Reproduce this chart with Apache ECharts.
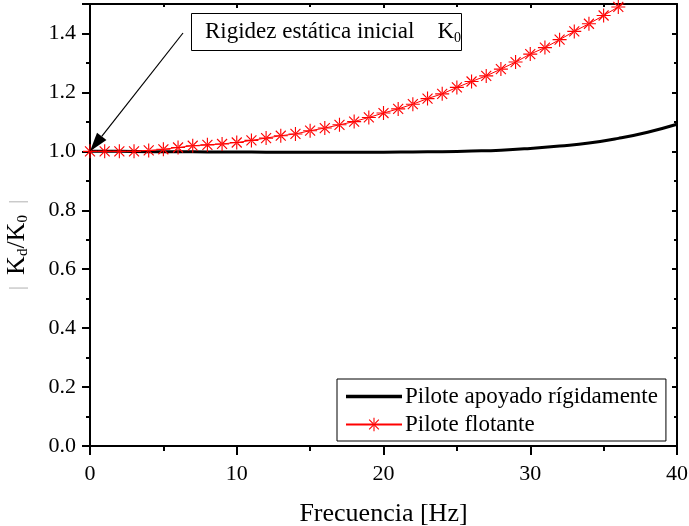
<!DOCTYPE html>
<html>
<head>
<meta charset="utf-8">
<script src="https://cdn.jsdelivr.net/npm/echarts@6/dist/echarts.min.js"></script>
<style>
  html, body { margin: 0; padding: 0; background: #fff; }
  #chart { width: 689px; height: 526px; }
</style>
</head>
<body>
<div id="chart"></div>
<script>
// frecuencias [Hz]
const freqRigid = [0, 2, 4, 6, 8, 10, 12, 14, 16, 18, 20, 22, 24, 26, 28, 30, 32, 34, 36, 38, 40];
const kRigid = [1.000, 1.000, 0.999, 0.999, 0.998, 0.998, 0.997, 0.997, 0.997, 0.997, 0.997,
  0.998, 0.999, 1.001, 1.004, 1.010, 1.018, 1.028, 1.044, 1.065, 1.092];

const freqFloat = [0, 1, 2, 3, 4, 5, 6, 7, 8, 9, 10, 11, 12, 13, 14, 15, 16, 17, 18, 19,
  20, 21, 22, 23, 24, 25, 26, 27, 28, 29, 30, 31, 32, 33, 34, 35, 36, 37];
const kFloat = [1.000, 1.000, 1.000, 1.000, 1.003, 1.007, 1.013, 1.019, 1.022, 1.025,
  1.030, 1.037, 1.045, 1.053, 1.059, 1.070, 1.079, 1.090, 1.101, 1.115,
  1.130, 1.144, 1.160, 1.179, 1.195, 1.217, 1.237, 1.256, 1.279, 1.303,
  1.330, 1.352, 1.379, 1.407, 1.433, 1.461, 1.490, 1.520];

const seriesNames = ["Pilote apoyado rígidamente", "Pilote flotante"];

const FONT = "Liberation Serif";

// asterisco de 8 brazos con punto central
const starPath = "path://M0 9.2H20V10.8H0Z M9.2 0H10.8V20H9.2Z " +
  "M2.3 3.45L3.45 2.3L17.7 16.55L16.55 17.7Z M16.55 2.3L17.7 3.45L3.45 17.7L2.3 16.55Z " +
  "M8.2 10a1.8 1.8 0 1 0 3.6 0a1.8 1.8 0 1 0 -3.6 0Z";

const pair = (xs, ys) => xs.map((x, i) => [x, ys[i]]);

const chart = echarts.init(document.getElementById("chart"), null, { renderer: "canvas" });

const tickRich = { t: { color: "#000", fontFamily: FONT, fontSize: 22 } };

let option = {
  animation: false,
  backgroundColor: "#fff",
  textStyle: { fontFamily: FONT, color: "#000" },
  grid: { left: 90, right: 12, top: 4, bottom: 80, outerBoundsMode: "none", containLabel: false },
  legend: {
    orient: "vertical",
    left: 337,
    top: 379,
    padding: [6, 8, 5, 8],
    itemGap: 5,
    itemWidth: 56,
    itemHeight: 17,
    borderColor: "#000",
    borderWidth: 1,
    backgroundColor: "#fff",
    textStyle: { color: "#000", fontFamily: FONT, fontSize: 23, padding: [0, 0, 0, -2] },
    data: [
      { name: seriesNames[0], icon: "path://M0 0H56V3.6H0Z" },
      { name: seriesNames[1] }
    ]
  },
  xAxis: [{
    type: "value",
    min: 0, max: 40, interval: 10,
    name: "Frecuencia [Hz]",
    nameLocation: "middle",
    nameGap: 55,
    nameTextStyle: { color: "#000", fontFamily: FONT, fontSize: 26 },
    axisLine: { onZero: false, lineStyle: { color: "#000", width: 2 } },
    axisTick: { inside: false, length: 9, lineStyle: { color: "#000", width: 2 } },
    minorTick: { show: true, splitNumber: 2, length: 5, lineStyle: { color: "#000", width: 2 } },
    axisLabel: {
      margin: 17,
      fontFamily: FONT,
      fontSize: 22,
      color: "#000",
      formatter: (v) => "{t|" + v + "}",
      rich: tickRich
    },
    splitLine: { show: false }
  }, {
    type: "value",
    position: "top",
    min: 0, max: 40, interval: 10,
    axisLine: { onZero: false, lineStyle: { color: "#000", width: 2 } },
    axisTick: { inside: true, length: 4, lineStyle: { color: "#000", width: 2 } },
    minorTick: { show: true, splitNumber: 2, length: 3, lineStyle: { color: "#000", width: 2 } },
    axisLabel: { show: false },
    splitLine: { show: false }
  }],
  yAxis: [{
    type: "value",
    min: 0, max: 1.5, interval: 0.2,
    axisLine: { onZero: false, lineStyle: { color: "#000", width: 2 } },
    axisTick: { inside: false, length: 8, lineStyle: { color: "#000", width: 2 } },
    minorTick: { show: true, splitNumber: 2, length: 4, lineStyle: { color: "#000", width: 2 } },
    axisLabel: {
      margin: 14,
      fontFamily: FONT,
      fontSize: 22,
      color: "#000",
      formatter: (v) => (Math.abs(v * 5 - Math.round(v * 5)) < 1e-6 ? "{t|" + v.toFixed(1) + "}" : ""),
      rich: tickRich
    },
    splitLine: { show: false }
  }, {
    type: "value",
    position: "right",
    min: 0, max: 1.5, interval: 0.2,
    axisLine: { onZero: false, lineStyle: { color: "#000", width: 2 } },
    axisTick: { inside: true, length: 5, lineStyle: { color: "#000", width: 2 } },
    minorTick: { show: true, splitNumber: 2, length: 3, lineStyle: { color: "#000", width: 2 } },
    axisLabel: { show: false },
    splitLine: { show: false }
  }],
  series: [{
    name: seriesNames[0],
    type: "line",
    data: pair(freqRigid, kRigid),
    smooth: true,
    symbol: "none",
    lineStyle: { color: "#000", width: 3 },
    itemStyle: { color: "#000" },
    z: 2
  }, {
    name: seriesNames[1],
    type: "line",
    data: pair(freqFloat, kFloat),
    symbol: starPath,
    symbolSize: 14,
    showAllSymbol: true,
    clip: true,
    lineStyle: { color: "#ff0000", width: 1 },
    itemStyle: { color: "#ff0000" },
    z: 3
  }]
};

chart.setOption(option);

// título del eje Y y anotación con flecha
const tip = chart.convertToPixel({ gridIndex: 0 }, [freqFloat[0], kFloat[0]]);
const start = [183, 33];
const dx = tip[0] - start[0], dy = tip[1] - start[1];
const len = Math.sqrt(dx * dx + dy * dy);
const ux = dx / len, uy = dy / len;
const headLen = 19, headW = 6;
const base = [tip[0] - ux * headLen, tip[1] - uy * headLen];

chart.setOption({
  graphic: [{
    type: "text",
    x: 17,
    y: 245,
    rotation: Math.PI / 2,
    style: {
      text: "{b||  }{k|K}{s|d}{k|/K}{s|0}{b|  |}",
      align: "center",
      verticalAlign: "middle",
      fill: "#000",
      rich: {
        b: { fontFamily: FONT, fontSize: 22, fill: "#bbb", lineHeight: 28 },
        k: { fontFamily: FONT, fontSize: 26, fill: "#000", lineHeight: 28 },
        s: { fontFamily: FONT, fontSize: 15, fill: "#000", lineHeight: 12, verticalAlign: "bottom" }
      }
    }
  }, {
    type: "rect",
    shape: { x: 191.5, y: 13.5, width: 270, height: 37 },
    style: { fill: "#fff", stroke: "#000", lineWidth: 1 },
    z: 10
  }, {
    type: "text",
    x: 205,
    y: 32,
    style: {
      text: "{t|Rigidez estática inicial    K}{s|0}",
      verticalAlign: "middle",
      rich: {
        t: { fontFamily: FONT, fontSize: 23, fill: "#000", lineHeight: 26 },
        s: { fontFamily: FONT, fontSize: 14, fill: "#000", lineHeight: 12, verticalAlign: "bottom" }
      }
    },
    z: 11
  }, {
    type: "line",
    shape: { x1: start[0], y1: start[1], x2: base[0], y2: base[1] },
    style: { stroke: "#000", lineWidth: 1.2 },
    z: 10
  }, {
    type: "polygon",
    shape: {
      points: [
        tip,
        [base[0] - uy * headW, base[1] + ux * headW],
        [base[0] + uy * headW, base[1] - ux * headW]
      ]
    },
    style: { fill: "#000" },
    z: 10
  }]
});

window.addEventListener("resize", () => {
  chart.resize();
});
</script>
</body>
</html>
